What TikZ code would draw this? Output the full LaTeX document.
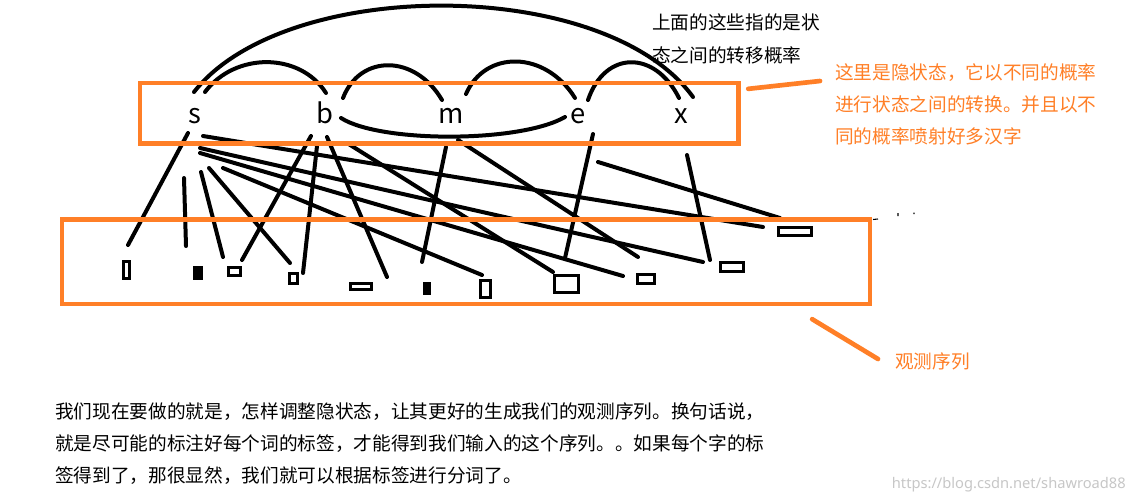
\documentclass[tikz,border=0pt]{standalone}
\usepackage{fontspec}
\setmainfont{Noto Sans}
\newfontfamily\cjk{Noto Sans CJK SC}
\usepackage{tikz}
\usetikzlibrary{calc}
\definecolor{paintOrange}{HTML}{FF7F27}

\begin{document}
\begin{tikzpicture}[x=0.75pt, y=-0.75pt,
    stateLetter/.style={font=\cjk\fontsize{20.5}{22}\selectfont, inner sep=0pt, anchor=base},
    seqBox/.style={draw=paintOrange, line width=3.2pt, inner sep=0pt},
    obsMark/.style={draw=black, line width=2.25pt, inner sep=0pt, outer sep=0pt},
    emitLine/.style={draw=black, line width=3pt, line cap=round},
    transArc/.style={draw=black, line width=3pt, line cap=round},
    pointerLine/.style={draw=paintOrange, line width=3.5pt, line cap=round},
    noteText/.style={font=\cjk\fontsize{14}{24}\selectfont, align=left, inner sep=0pt, anchor=north west}
]
    \fill[white] (0,0) rectangle (1134,500);
    \useasboundingbox (0,0) rectangle (1134,500);

    % hidden states
    \node[stateLetter] (stS) at (195,123) {s};
    \node[stateLetter] (stB) at (325,123) {b};
    \node[stateLetter] (stM) at (451,123) {m};
    \node[stateLetter] (stE) at (578,123) {e};
    \node[stateLetter] (stX) at (681,123) {x};

    % observed marks
    \foreach \n/\cx/\cy/\w/\h/\f in {1/126.5/270/4.5/12.75/white, 2/198/273/5.25/8.25/black,
        3/234.5/271.5/9/6/white, 4/293.5/278.5/6/7.5/white, 5/361/286.5/15.75/4.5/white,
        6/427/288.5/3.75/7.5/black, 7/485.5/289/7.5/12.75/white, 8/566.5/284/18/12.75/white,
        9/646/279/12.75/6.75/white, 10/732/267/17.25/6.75/white, 11/795/231.5/24.75/6/white}
        \node[obsMark, fill=\f, minimum width=\w pt, minimum height=\h pt] (o\n) at (\cx,\cy) {};

    % transitions
    \draw[transArc] ($(stS.base)+(-1,-31)$) .. controls (285,-24) and (605,-24) .. ($(stX.base)+(12,-26)$);
    \draw[transArc] ($(stS.base)+(10,-31)$) .. controls (235,52) and (300,52) .. ($(stB.base)+(1,-30)$);
    \draw[transArc] ($(stB.base)+(18,-25)$) .. controls (360,54) and (415,54) .. ($(stM.base)+(-9,-23)$);
    \draw[transArc] ($(stM.base)+(15,-29)$) .. controls (485,50) and (545,50) .. ($(stE.base)+(-3,-25)$);
    \draw[transArc] ($(stE.base)+(10,-23)$) .. controls (605,50) and (655,50) .. ($(stX.base)+(-2,-25)$);
    \draw[transArc] ($(stB.base)+(16,-5)$) .. controls (380,143) and (520,143) .. ($(stE.base)+(-13,-6)$);

    % emissions
    \foreach \st/\a/\b/\ob/\c/\d in {stS/-7/10/1/1.5/-25, stS/-11/55/2/-12/-27, stS/6/49/3/-11.5/-14.5,
        stS/14/45/4/-3.5/-15.5, stS/28/45/7/-3.5/-14, stS/8/13/11/-32/-4.5, stS/5/25/10/-29/-5,
        stS/5/30/9/-23/-3, stB/-14/13/3/7.5/-11.5, stB/-8/23/4/9.5/-5.5, stB/2/14/5/26/-9.5,
        stB/22/20/8/-13.5/-12, stM/-5/24/6/-5/-26.5, stM/7/17/9/-8/-22, stE/15/11/8/-1.5/-26,
        stE/20/39/11/-15/-13.5, stX/6/32/10/-22/-7}
        \draw[emitLine] ($(\st.base)+(\a,\b)$) -- ($(o\ob)+(\c,\d)$);

    % stray specks
    \draw[line width=0.8pt] (873,219.5) -- (878,219) (898,213) -- (898,216) (914,212.5) -- (914,214);

    % the two sequences
    \node[seqBox, minimum width=449pt, minimum height=45.4pt] (hidBox) at (439.25,113.25) {};
    \node[seqBox, minimum width=606pt, minimum height=63.4pt] (obsBox) at (466,261.75) {};

    % notes
    \node[noteText, font=\cjk\fontsize{14}{24.75}\selectfont] (topNote) at (652,13) {上面的这些指的是状\\态之间的转移概率};
    \node[noteText, text=paintOrange] (hidNote) at (835,63) {这里是隐状态，它以不同的概率\\进行状态之间的转换。并且以不\\同的概率喷射好多汉字};
    \node[noteText, text=paintOrange] (obsNote) at (895,352) {观测序列};
    \node[noteText] (mainNote) at (55,402) {我们现在要做的就是，怎样调整隐状态，让其更好的生成我们的观测序列。换句话说，\\就是尽可能的标注好每个词的标签，才能得到我们输入的这个序列。。如果每个字的标\\签得到了，那很显然，我们就可以根据标签进行分词了。};
    \node[font=\fontsize{11}{12}\selectfont, text=black!22, inner sep=0pt, anchor=base east] (wmark) at (1126,488) {https://blog.csdn.net/shawroad88};

    \draw[pointerLine] ($(hidBox.north east)+(7.5,8)$) -- ($(hidNote.north west)+(-15,18)$);
    \draw[pointerLine] ($(obsBox.south east)+(-60,13)$) -- ($(obsNote.north west)+(-17,7)$);
\end{tikzpicture}
\end{document}
